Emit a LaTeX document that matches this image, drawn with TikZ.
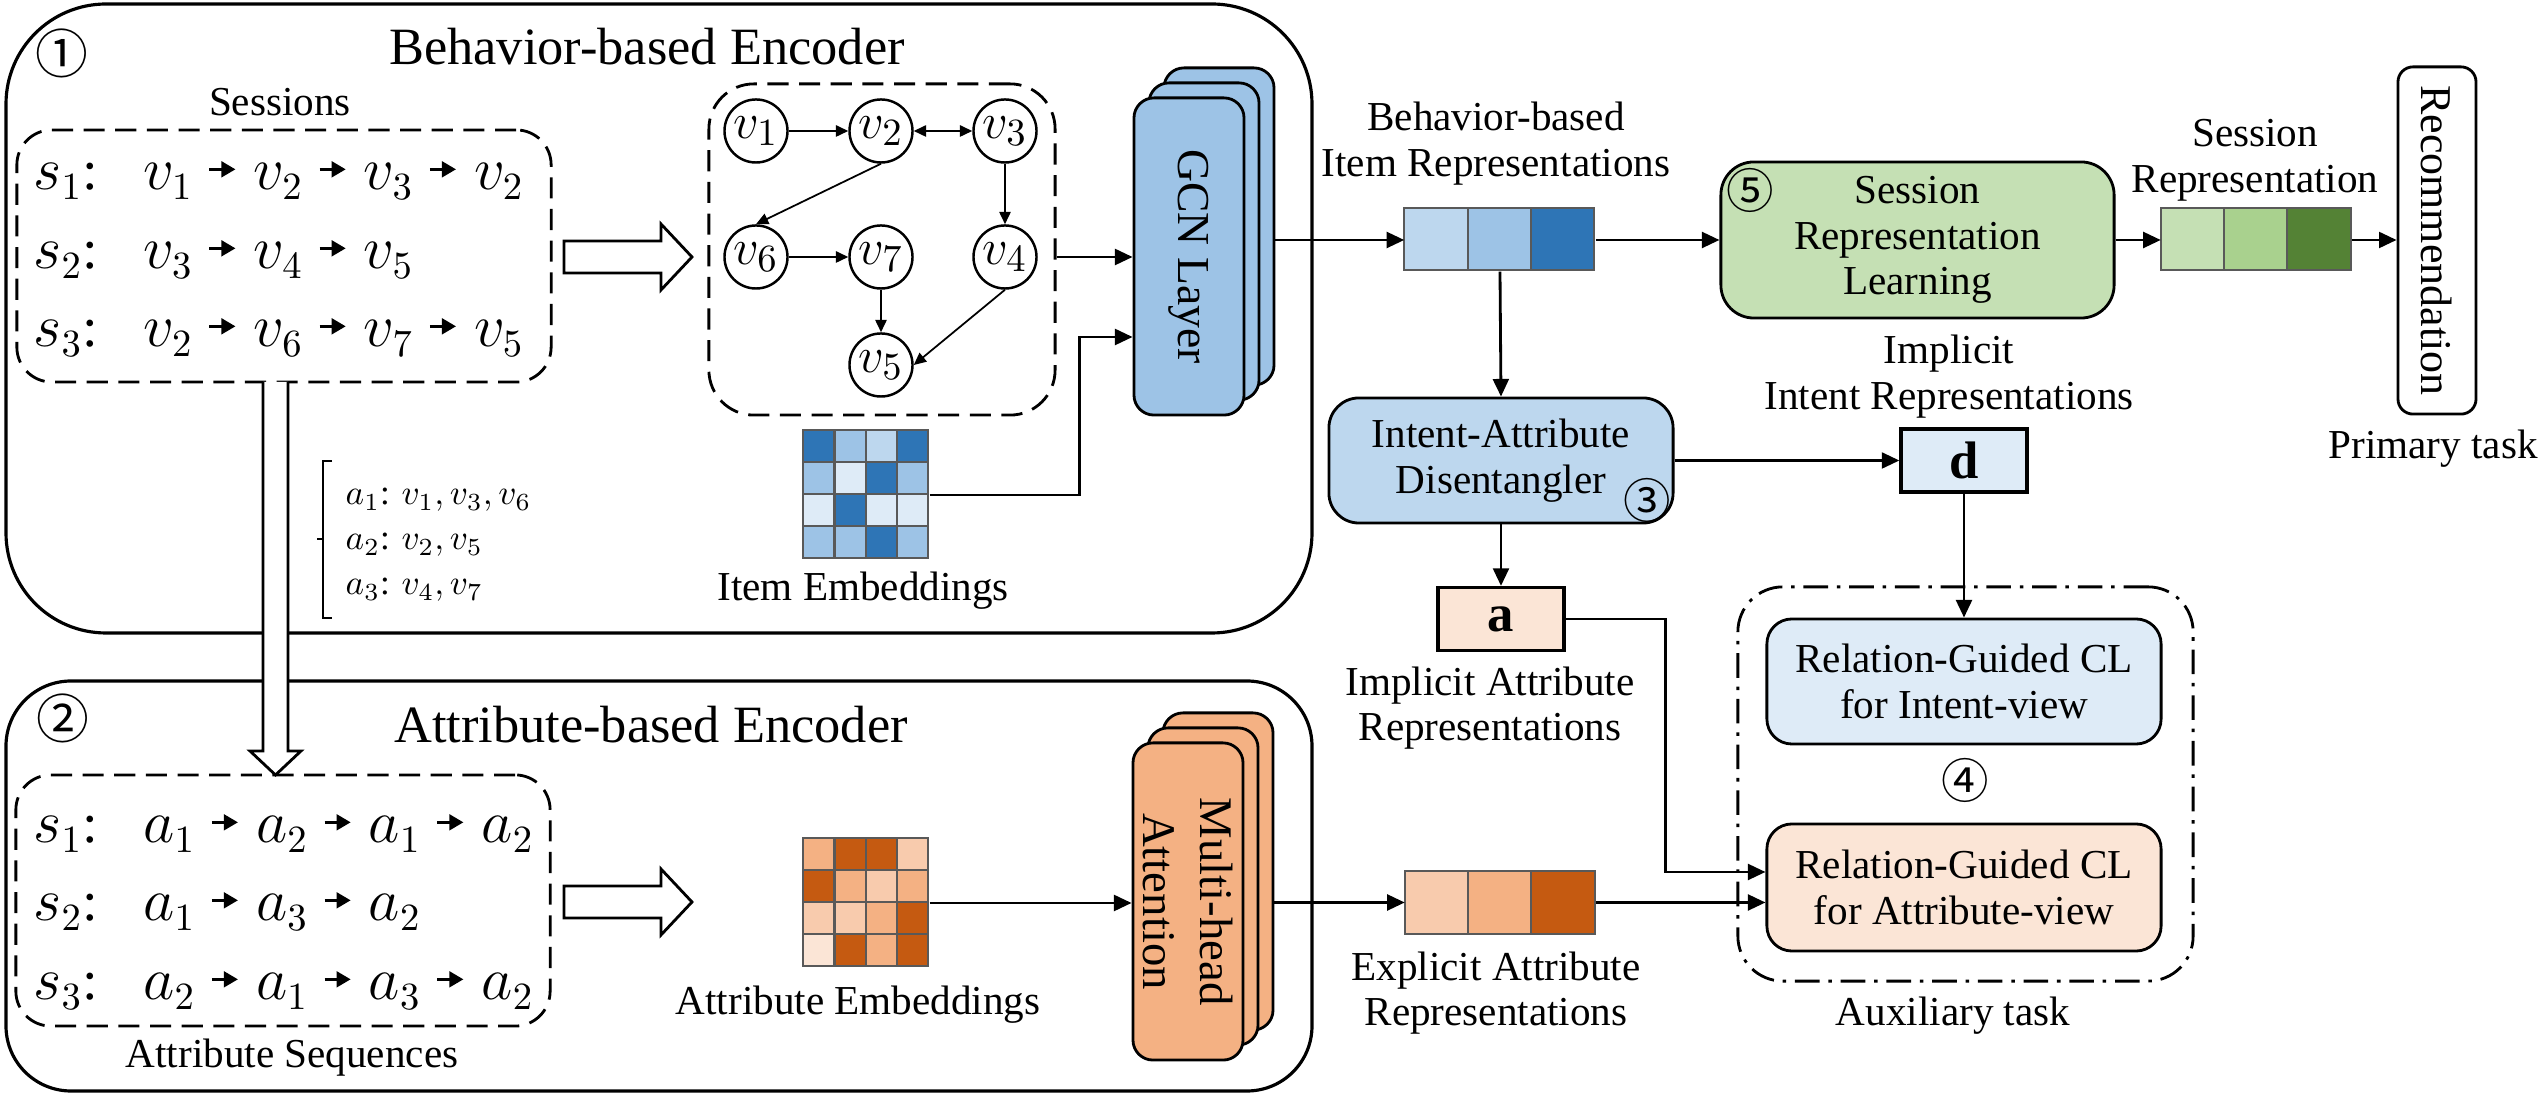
\documentclass[tikz,border=0pt]{standalone}
\usepackage{fontspec}
\setmainfont{Liberation Serif}
\newfontfamily\circfont{Noto Sans CJK SC}
\usetikzlibrary{arrows.meta,calc}

\definecolor{blueD}{HTML}{2E75B6}
\definecolor{blueM}{HTML}{9DC3E6}
\definecolor{blueL}{HTML}{BDD7EE}
\definecolor{blueXL}{HTML}{DEEBF7}
\definecolor{orgD}{HTML}{C55A11}
\definecolor{orgM}{HTML}{F4B183}
\definecolor{orgL}{HTML}{F8CBAD}
\definecolor{orgXL}{HTML}{FBE5D6}
\definecolor{grnL}{HTML}{C5E0B4}
\definecolor{grnM}{HTML}{A9D18E}
\definecolor{grnD}{HTML}{548235}

\tikzset{
  conn/.style={-{Triangle[length=5pt,width=4.5pt]}, line width=0.8pt},
  gconn/.style={-{Triangle[length=3.5pt,width=3.2pt]}, line width=0.5pt},
  gnode/.style={circle, draw, line width=0.7pt, minimum size=0.63cm, inner sep=0pt, font=\fontsize{15}{15}\selectfont},
  lbl/.style={align=center, font=\fontsize{11.7}{13}\selectfont},
  title/.style={font=\fontsize{14.9}{16}\selectfont},
  circnum/.style={font=\circfont\fontsize{15}{15}\selectfont, inner sep=0pt},
  smallnum/.style={font=\circfont\fontsize{13.5}{13.5}\selectfont, inner sep=0pt},
  seqtxt/.style={inner sep=0pt, font=\fontsize{16}{16}\selectfont},
  procbox/.style={draw, rounded corners=0.3cm, line width=0.8pt, align=center, font=\fontsize{11.7}{13}\selectfont},
  layerbox/.style={draw, rounded corners=0.2cm, line width=0.8pt, minimum width=1.1cm, minimum height=3.17cm},
  repbox/.style={draw, line width=0.9pt, minimum width=1.26cm, minimum height=0.63cm, font=\fontsize{15}{15}\selectfont\bfseries},
  dashbox/.style={draw, dash pattern=on 6pt off 3pt, line width=0.8pt, rounded corners=0.35cm},
  vec/.style={minimum width=1.9cm, minimum height=0.62cm, inner sep=0pt},
  mat/.style={minimum width=1.25cm, minimum height=1.28cm, inner sep=0pt},
  cellline/.style={draw=black!65, line width=0.6pt},
}

\newcommand{\sarr}{\hspace{0.15cm}\tikz[baseline=-0.8ex]\draw[-{Triangle[length=4pt,width=4.5pt]},line width=0.7pt] (0,0) -- (0.26cm,0);\hspace{0.17cm}}

\begin{document}
\begin{tikzpicture}[x=0.01cm,y=-0.01cm]
\useasboundingbox (0,0) rectangle (2547,1098);

% two encoders
\draw[line width=0.9pt, rounded corners=1cm] (6,4) rectangle (1312,633);
\draw[line width=0.9pt, rounded corners=0.65cm] (6,681) rectangle (1312,1091);

% behavior-based encoder
\node[circnum] (num1) at (62,53) {①};
\node[title] (behTitle) at (647,47) {Behavior-based Encoder};
\node[lbl] (sessLbl) at (280,102) {Sessions};
\node[dashbox, minimum width=5.34cm, minimum height=2.52cm] (sess) at (284,256) {};
\node[seqtxt, anchor=base west] (srow1) at (33,190) {$s_1$:\hspace{0.45cm}$v_1$\sarr$v_2$\sarr$v_3$\sarr$v_2$};
\node[seqtxt, anchor=base west] (srow2) at (33,269) {$s_2$:\hspace{0.45cm}$v_3$\sarr$v_4$\sarr$v_5$};
\node[seqtxt, anchor=base west] (srow3) at (33,347) {$s_3$:\hspace{0.45cm}$v_2$\sarr$v_6$\sarr$v_7$\sarr$v_5$};

\draw[line width=0.8pt, fill=white] (564,241) -- (661,241) -- (661,224) -- (692,257) -- (661,290) -- (661,273) -- (564,273) -- cycle;

\node[dashbox, rounded corners=0.45cm, minimum width=3.46cm, minimum height=3.31cm] (graph) at (882,249.5) {};
\node[gnode] (v1) at (756,131) {$v_1$};
\node[gnode] (v2) at (881,131) {$v_2$};
\node[gnode] (v3) at (1005,131) {$v_3$};
\node[gnode] (v6) at (756,257) {$v_6$};
\node[gnode] (v7) at (881,257) {$v_7$};
\node[gnode] (v4) at (1005,257) {$v_4$};
\node[gnode] (v5) at (881,365) {$v_5$};
\draw[gconn] (v1) -- (v2);
\draw[gconn, {Triangle[length=3.5pt,width=3.2pt]}-{Triangle[length=3.5pt,width=3.2pt]}] (v2) -- (v3);
\draw[gconn] (v2.south) -- (v6.north);
\draw[gconn] (v3) -- (v4);
\draw[gconn] (v6) -- (v7);
\draw[gconn] (v7) -- (v5);
\draw[gconn] (v4.south) -- (v5.east);

\foreach \k/\d in {3/30,2/15,1/0}
  \node[layerbox, fill=blueM] (gcn\k) at (1189+\d,256.5-\d) {};
\node[rotate=-90, font=\fontsize{13}{13}\selectfont] (gcnTxt) at (gcn1) {GCN Layer};

\node[mat] (itemEmb) at (866.5,495) {};
\foreach \row [count=\r] in {{blueD,blueM,blueL,blueD},{blueM,blueXL,blueD,blueM},{blueXL,blueD,blueXL,blueXL},{blueM,blueM,blueD,blueM}}
  \foreach \c [count=\k] in \row
    \draw[cellline, fill=\c] ($(itemEmb.north west)+({(\k-1)*31.25},{(\r-1)*32})$) rectangle ++(31.25,32);
\node[lbl] (itemLbl) at (863,591) {Item Embeddings};

\draw[conn] (graph.east |- v4) -- (gcn1.west |- v4);
\draw[conn] (itemEmb.east) -- ++(150,0) |- ($(gcn1.west)+(0,80.5)$);

% attribute lists
\draw[line width=0.7pt] (332,461) -- (323,461) -- (323,618) -- (332,618) (323,539) -- (317,539);
\node[anchor=west, align=left, inner sep=0pt, font=\fontsize{10}{12.8}\selectfont] (attrMap) at (345,545)
  {$a_1$: $v_1, v_3, v_6$\\$a_2$: $v_2, v_5$\\$a_3$: $v_4, v_7$};

% from sessions to attribute sequences
\draw[line width=0.8pt, fill=white] (263,382) -- (263,751) -- (250,751) -- (275.5,775) -- (301,751) -- (288,751) -- (288,382);

% attribute-based encoder
\node[circnum] (num2) at (63,718) {②};
\node[title] (attTitle) at (651,725) {Attribute-based Encoder};
\node[dashbox, minimum width=5.34cm, minimum height=2.51cm] (attSeq) at (283,900.5) {};
\node[seqtxt, anchor=base west] (arow1) at (33,843) {$s_1$:\hspace{0.45cm}$a_1$\sarr$a_2$\sarr$a_1$\sarr$a_2$};
\node[seqtxt, anchor=base west] (arow2) at (33,921) {$s_2$:\hspace{0.45cm}$a_1$\sarr$a_3$\sarr$a_2$};
\node[seqtxt, anchor=base west] (arow3) at (33,1000) {$s_3$:\hspace{0.45cm}$a_2$\sarr$a_1$\sarr$a_3$\sarr$a_2$};
\node[lbl] (seqLbl) at (292,1058) {Attribute Sequences};

\draw[line width=0.8pt, fill=white] (564,886) -- (661,886) -- (661,869) -- (692,902) -- (661,935) -- (661,918) -- (564,918) -- cycle;

\node[mat] (attrEmb) at (866.5,903) {};
\foreach \row [count=\r] in {{orgM,orgD,orgD,orgL},{orgD,orgM,orgL,orgM},{orgL,orgL,orgM,orgD},{orgXL,orgD,orgM,orgD}}
  \foreach \c [count=\k] in \row
    \draw[cellline, fill=\c] ($(attrEmb.north west)+({(\k-1)*31.25},{(\r-1)*32})$) rectangle ++(31.25,32);
\node[lbl] (attrLbl) at (858,1005) {Attribute Embeddings};

\foreach \k/\d in {3/30,2/15,1/0}
  \node[layerbox, fill=orgM] (mha\k) at (1188+\d,901.5-\d) {};
\node[rotate=-90, align=center, font=\fontsize{13.3}{16}\selectfont] (mhaTxt) at (mha1) {Multi-head\\Attention};
\draw[conn] (attrEmb.east) -- (mha1.west |- attrEmb.east);

% representations
\node[vec] (birep) at (1500,240) {};
\foreach \c [count=\k] in {blueL,blueM,blueD}
  \draw[cellline, fill=\c] ($(birep.north west)+({(\k-1)*63.33},0)$) rectangle ++(63.33,62);
\node[lbl] (birepLbl) at (1496,143.5) {Behavior-based\\Item Representations};

\node[procbox, fill=grnL, minimum width=3.93cm, minimum height=1.56cm, rounded corners=0.33cm] (srl) at (1917.5,240) {Session\\Representation\\Learning};
\node[smallnum] (num5) at (1750,190) {⑤};

\node[vec] (srep) at (2256.5,240) {};
\foreach \c [count=\k] in {grnL,grnM,grnD}
  \draw[cellline, fill=\c] ($(srep.north west)+({(\k-1)*63.33},0)$) rectangle ++(63.33,62);
\node[lbl] (srepLbl) at (2255,160) {Session\\Representation};

\node[draw, line width=0.8pt, rounded corners=0.15cm, minimum width=0.78cm, minimum height=3.47cm] (rec) at (2437,240.5) {};
\node[rotate=-90, font=\fontsize{12.5}{12.5}\selectfont] (recTxt) at (rec) {Recommendation};
\node[lbl] (primLbl) at (2433,449) {Primary task};

\draw[conn] (gcn3.east |- birep.west) -- (birep.west);
\draw[conn] (birep.east) -- (srl.west);
\draw[conn] (srl.east) -- (srep.west);
\draw[conn] (srep.east) -- (rec.west |- srep.east);

\node[procbox, fill=blueL, minimum width=3.44cm, minimum height=1.25cm] (iad) at (1501,460.5) {Intent-Attribute\\Disentangler};
\node[smallnum] (num3) at (1647,500) {③};
\node[repbox, fill=blueXL] (dvec) at (1964,460.5) {d};
\node[lbl] (dLbl) at (1949,376.5) {Implicit\\Intent Representations};
\node[repbox, fill=orgXL] (avec) at (1501,619) {a};
\node[lbl] (aLbl) at (1490,708) {Implicit Attribute\\Representations};

\node[vec] (eavec) at (1500.5,902.5) {};
\foreach \c [count=\k] in {orgL,orgM,orgD}
  \draw[cellline, fill=\c] ($(eavec.north west)+({(\k-1)*63.33},0)$) rectangle ++(63.33,63);
\node[lbl] (eaLbl) at (1496,993) {Explicit Attribute\\Representations};
\draw[conn] (mha3.east |- eavec.west) -- (eavec.west);

% auxiliary task
\node[draw, dash pattern=on 7pt off 2.5pt on 1pt off 2.5pt, line width=0.8pt, rounded corners=0.45cm, minimum width=4.55cm, minimum height=3.94cm] (aux) at (1965.5,784) {};
\node[procbox, fill=blueXL, rounded corners=0.25cm, minimum width=3.94cm, minimum height=1.25cm] (clInt) at (1964,681.5) {Relation-Guided CL\\for Intent-view};
\node[smallnum] (num4) at (1965,780) {④};
\node[procbox, fill=orgXL, rounded corners=0.25cm, minimum width=3.94cm, minimum height=1.27cm] (clAtt) at (1964,887.5) {Relation-Guided CL\\for Attribute-view};
\node[lbl] (auxLbl) at (1953,1016) {Auxiliary task};

\draw[conn] (birep.south) -- (iad.north);
\draw[conn] (iad.east) -- (dvec.west);
\draw[conn] (iad.south) -- (avec.north);
\draw[conn] (dvec.south) -- (clInt.north);
\draw[conn] (avec.east) -- ++(100,0) |- ($(clAtt.west)+(0,-15.5)$);
\draw[conn] (eavec.east) -- (clAtt.west |- eavec.east);
\end{tikzpicture}
\end{document}
